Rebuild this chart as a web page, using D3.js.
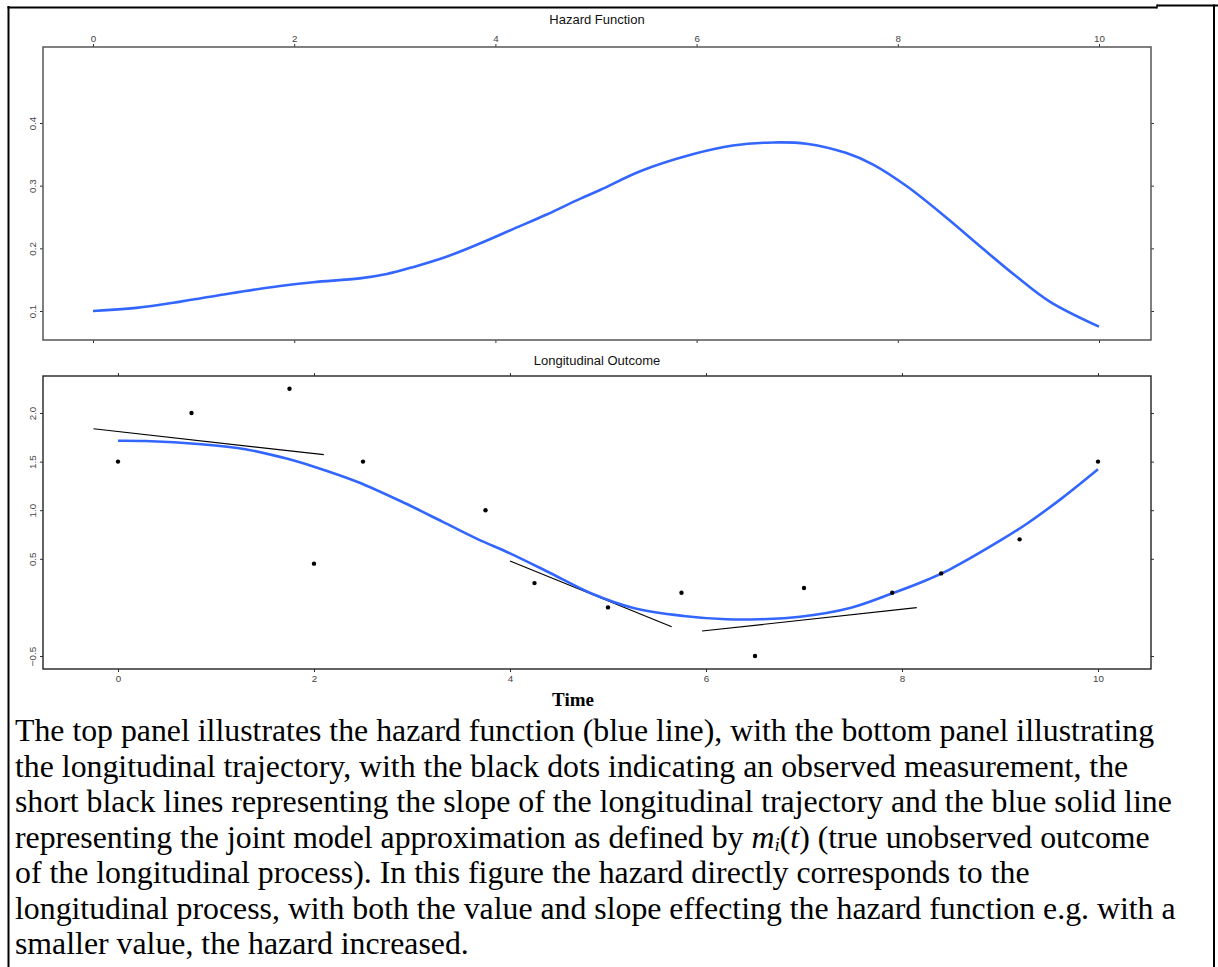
<!DOCTYPE html>
<html>
<head>
<meta charset="utf-8">
<script src="https://cdn.jsdelivr.net/npm/d3@7/dist/d3.min.js"></script>
<style>
  html, body { margin: 0; padding: 0; background: #fff; }
  svg { display: block; }
</style>
</head>
<body>
<script>
// ---------- DATA ----------
// Hazard function (top panel)
const hazardTime  = [0, 0.43, 0.87, 1.36, 1.86, 2.19, 2.65, 2.92, 3.18, 3.52, 3.85, 4.18, 4.51, 4.84, 5.04, 5.44, 5.96, 6.36, 6.76, 7.09, 7.49, 7.75, 8.09, 8.49, 8.82, 9.18, 9.51, 10];
const hazardValue = [0.100, 0.105, 0.115, 0.128, 0.140, 0.146, 0.152, 0.159, 0.170, 0.187, 0.208, 0.231, 0.254, 0.279, 0.293, 0.323, 0.350, 0.364, 0.369, 0.367, 0.352, 0.334, 0.299, 0.248, 0.203, 0.155, 0.115, 0.075];

// Longitudinal trajectory m_i(t) (bottom panel, blue line)
const trajTime  = [0, 0.28, 0.85, 1.30, 1.71, 2.0, 2.44, 2.93, 3.31, 3.67, 4.0, 4.41, 4.82, 5.26, 5.77, 6.21, 6.55, 6.96, 7.47, 7.91, 8.21, 8.49, 9.0, 9.27, 9.63, 10];
const trajValue = [1.715, 1.712, 1.678, 1.627, 1.534, 1.448, 1.293, 1.071, 0.882, 0.702, 0.556, 0.354, 0.148, -0.006, -0.088, -0.122, -0.122, -0.096, -0.006, 0.148, 0.264, 0.392, 0.686, 0.858, 1.122, 1.421];

// Observed measurements (black dots)
const obsTime  = [0, 0.75, 1.75, 2.0, 2.5, 3.75, 4.25, 5.0, 5.75, 6.5, 7.0, 7.9, 8.4, 9.2, 10];
const obsValue = [1.5, 2.0, 2.25, 0.45, 1.5, 1.0, 0.25, 0.0, 0.15, -0.5, 0.2, 0.15, 0.35, 0.7, 1.5];

// Slope segments (short black lines): start/end time and value
const slopeT0 = [-0.25, 4.0, 5.96];
const slopeV0 = [1.838, 0.477, -0.243];
const slopeT1 = [2.10, 5.65, 8.15];
const slopeV1 = [1.571, -0.199, -0.003];

// Tick labels
const xTicks = [0, 2, 4, 6, 8, 10];
const hazardTicks = [0.1, 0.2, 0.3, 0.4];
const longTicks = [-0.5, 0.5, 1.0, 1.5, 2.0];

const captionLines = [
  ["The top panel illustrates the hazard function (blue line), with the bottom panel illustrating"],
  ["the longitudinal trajectory, with the black dots indicating an observed measurement, the"],
  ["short black lines representing the slope of the longitudinal trajectory and the blue solid line"],
  ["representing the joint model approximation as defined by ", "MATH", " (true unobserved outcome"],
  ["of the longitudinal process). In this figure the hazard directly corresponds to the"],
  ["longitudinal process, with both the value and slope effecting the hazard function e.g. with a"],
  ["smaller value, the hazard increased."]
];

// ---------- DRAW ----------
const W = 1218, H = 967;
const svg = d3.select("body").append("svg").attr("width", W).attr("height", H);
svg.append("rect").attr("width", W).attr("height", H).attr("fill", "#fff");

// page frame lines
svg.append("line").attr("x1", 8.5).attr("x2", 8.5).attr("y1", 6).attr("y2", H).attr("stroke", "#000").attr("stroke-width", 2);
svg.append("line").attr("x1", 7.5).attr("x2", 1157).attr("y1", 7.5).attr("y2", 7.5).attr("stroke", "#000").attr("stroke-width", 2);
svg.append("line").attr("x1", 1157).attr("x2", W).attr("y1", 5.5).attr("y2", 5.5).attr("stroke", "#000").attr("stroke-width", 2);
svg.append("line").attr("x1", 1157).attr("x2", 1157).attr("y1", 4.5).attr("y2", 8.5).attr("stroke", "#000").attr("stroke-width", 1.5);
svg.append("line").attr("x1", 1214).attr("x2", 1214).attr("y1", 4.5).attr("y2", H).attr("stroke", "#000").attr("stroke-width", 2);

const boxL = 43, boxR = 1151;
const font = "'Liberation Sans', Arial, sans-serif";
const tickColor = "#444";

function styleAxis(g) {
  g.select(".domain").remove();
  g.selectAll(".tick line").attr("stroke", "#333").attr("stroke-width", 1);
  g.selectAll(".tick text").attr("fill", tickColor).attr("font-size", "9.8px").attr("font-family", font);
}

// ----- Top panel -----
const topY0 = 47, topY1 = 340;
const xTop = d3.scaleLinear().domain([0, 10]).range([93, 1099]);
const yTop = d3.scaleLinear().domain([0.1, 0.4]).range([311, 123]);

const gTop = svg.append("g");
gTop.append("text").attr("x", (boxL + boxR) / 2).attr("y", 24).attr("text-anchor", "middle")
  .attr("font-family", font).attr("font-size", "13px").attr("fill", "#111").text("Hazard Function");

gTop.append("g").attr("transform", `translate(0,${topY0})`)
  .call(d3.axisTop(xTop).tickValues(xTicks).tickFormat(d3.format("d")).tickSize(3).tickPadding(2.5))
  .call(styleAxis);
gTop.append("g").attr("transform", `translate(0,${topY1})`)
  .call(d3.axisBottom(xTop).tickValues(xTicks).tickFormat("").tickSize(3))
  .call(styleAxis);
gTop.append("g").attr("transform", `translate(${boxR},0)`)
  .call(d3.axisRight(yTop).tickValues(hazardTicks).tickFormat("").tickSize(3))
  .call(styleAxis);
const gTopLeft = gTop.append("g").attr("transform", `translate(${boxL},0)`)
  .call(d3.axisLeft(yTop).tickValues(hazardTicks).tickFormat(d3.format(".1f")).tickSize(3).tickPadding(4))
  .call(styleAxis);
gTopLeft.selectAll(".tick text").attr("transform", "rotate(-90)").attr("x", 0).attr("y", -7).attr("dy", "0").attr("text-anchor", "middle");

gTop.append("rect").attr("x", boxL).attr("y", topY0).attr("width", boxR - boxL).attr("height", topY1 - topY0)
  .attr("fill", "none").attr("stroke", "#555").attr("stroke-width", 1.5);

const hazardData = hazardTime.map((t, i) => [t, hazardValue[i]]);
gTop.append("path").datum(hazardData)
  .attr("d", d3.line().x(d => xTop(d[0])).y(d => yTop(d[1])).curve(d3.curveCatmullRom.alpha(0.5)))
  .attr("fill", "none").attr("stroke", "#3366FF").attr("stroke-width", 2.6).attr("stroke-linejoin", "round");

// ----- Bottom panel -----
const botY0 = 376, botY1 = 669;
const xBot = d3.scaleLinear().domain([0, 10]).range([118, 1098]);
const yBot = d3.scaleLinear().domain([-0.5, 2.0]).range([656, 413]);

const gBot = svg.append("g");
gBot.append("text").attr("x", (boxL + boxR) / 2).attr("y", 365).attr("text-anchor", "middle")
  .attr("font-family", font).attr("font-size", "13px").attr("fill", "#111").text("Longitudinal Outcome");

gBot.append("g").attr("transform", `translate(0,${botY1})`)
  .call(d3.axisBottom(xBot).tickValues(xTicks).tickFormat(d3.format("d")).tickSize(3).tickPadding(3))
  .call(styleAxis);
gBot.append("g").attr("transform", `translate(0,${botY0})`)
  .call(d3.axisTop(xBot).tickValues(xTicks).tickFormat("").tickSize(3))
  .call(styleAxis);
gBot.append("g").attr("transform", `translate(${boxR},0)`)
  .call(d3.axisRight(yBot).tickValues(longTicks).tickFormat("").tickSize(3))
  .call(styleAxis);
const gBotLeft = gBot.append("g").attr("transform", `translate(${boxL},0)`)
  .call(d3.axisLeft(yBot).tickValues(longTicks).tickFormat(d3.format(".1f")).tickSize(3).tickPadding(4))
  .call(styleAxis);
gBotLeft.selectAll(".tick text").attr("transform", "rotate(-90)").attr("x", 0).attr("y", -7).attr("dy", "0").attr("text-anchor", "middle");

gBot.append("rect").attr("x", boxL).attr("y", botY0).attr("width", boxR - boxL).attr("height", botY1 - botY0)
  .attr("fill", "none").attr("stroke", "#222").attr("stroke-width", 1.4);

// slope lines
gBot.selectAll("line.slope").data(slopeT0.map((t, i) => i)).enter().append("line")
  .attr("class", "slope")
  .attr("x1", i => xBot(slopeT0[i])).attr("y1", i => yBot(slopeV0[i]))
  .attr("x2", i => xBot(slopeT1[i])).attr("y2", i => yBot(slopeV1[i]))
  .attr("stroke", "#000").attr("stroke-width", 1.2);

// trajectory
const trajData = trajTime.map((t, i) => [t, trajValue[i]]);
gBot.append("path").datum(trajData)
  .attr("d", d3.line().x(d => xBot(d[0])).y(d => yBot(d[1])).curve(d3.curveCatmullRom.alpha(0.5)))
  .attr("fill", "none").attr("stroke", "#3366FF").attr("stroke-width", 2.6).attr("stroke-linejoin", "round");

// observed points
gBot.selectAll("circle.obs").data(obsTime.map((t, i) => [t, obsValue[i]])).enter().append("circle")
  .attr("class", "obs").attr("cx", d => xBot(d[0])).attr("cy", d => yBot(d[1])).attr("r", 2.2).attr("fill", "#000");

// x-axis title
svg.append("text").attr("x", 573).attr("y", 706).attr("text-anchor", "middle")
  .attr("font-family", "'Liberation Serif', 'Times New Roman', serif").attr("font-weight", "bold")
  .attr("font-size", "19px").attr("fill", "#000").text("Time");

// ----- Caption -----
const cap = svg.append("g").attr("font-family", "'Liberation Serif', 'Times New Roman', serif")
  .attr("font-size", "31.8px").attr("fill", "#000");
captionLines.forEach((parts, i) => {
  const t = cap.append("text").attr("x", 15).attr("y", 741 + i * 35.5);
  parts.forEach(p => {
    if (p === "MATH") {
      t.append("tspan").attr("font-style", "italic").text("m");
      t.append("tspan").attr("font-style", "italic").attr("font-size", "19px").attr("dy", 3).text("i");
      t.append("tspan").attr("dy", -3).text("(");
      t.append("tspan").attr("font-style", "italic").text("t");
      t.append("tspan").text(")");
    } else {
      t.append("tspan").text(p);
    }
  });
});
</script>
</body>
</html>
